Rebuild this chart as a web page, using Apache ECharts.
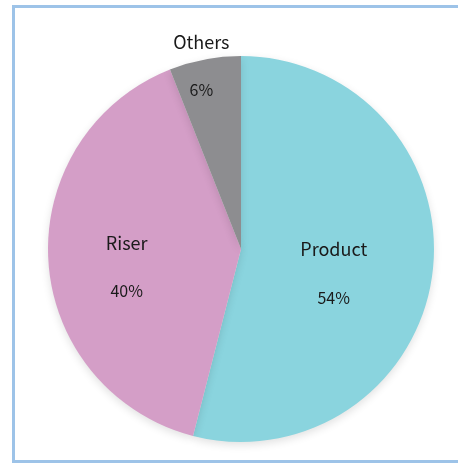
<!DOCTYPE html>
<html>
<head>
<meta charset="utf-8">
<script src="https://cdn.jsdelivr.net/npm/echarts@6/dist/echarts.min.js"></script>
<style>
html,body{margin:0;padding:0;background:#fff;}
#chart{width:458px;height:463px;}
</style>
</head>
<body>
<div id="chart"></div>
<script>
const categories = ['Product', 'Riser', 'Others'];
const values = [54, 40, 6];
const colors = ['#8AD4DE', '#D49EC7', '#8D8D90'];
const labelOffsets = [[-6, 12], [-15, 12], [-21, -85]];

const chart = echarts.init(document.getElementById('chart'));
chart.setOption({
  animation: false,
  graphic: [{
    type: 'rect',
    shape: { x: 13.5, y: 6.5, width: 470, height: 455 },
    style: { fill: 'none', stroke: '#9DC3E8', lineWidth: 3 },
    z: 10
  }],
  series: [{
    type: 'pie',
    center: [241, 249],
    radius: [0, 193],
    startAngle: 90,
    clockwise: true,
    avoidLabelOverlap: false,
    itemStyle: {
      shadowBlur: 8,
      shadowColor: 'rgba(0,0,0,0.12)',
      shadowOffsetY: 3
    },
    label: {
      position: 'inside',
      formatter: '{n|{b}}\n{p|{c}%}',
      rich: {
        n: { fontFamily: 'Noto Sans CJK JP', fontSize: 18, color: '#1a1a1a', lineHeight: 48 },
        p: { fontFamily: 'Noto Sans CJK JP', fontSize: 16, color: '#1a1a1a', lineHeight: 48 }
      }
    },
    labelLine: { show: false },
    emphasis: { disabled: true },
    data: categories.map((c, i) => ({
      name: c,
      value: values[i],
      itemStyle: { color: colors[i] },
      label: { offset: labelOffsets[i] }
    }))
  }]
});
</script>
</body>
</html>
